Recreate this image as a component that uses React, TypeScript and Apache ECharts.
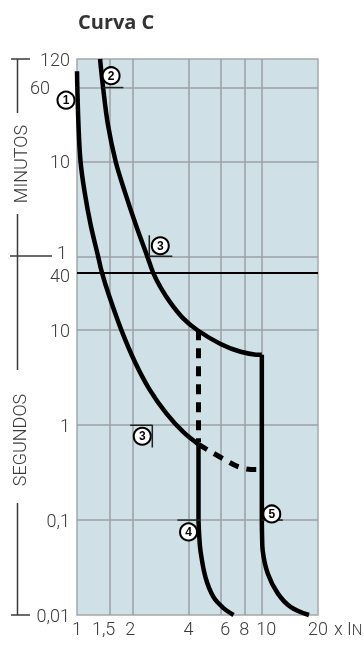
import React, { useEffect, useRef } from "react";
import * as echarts from "echarts";

const chartTitle = "Curva C";
const xTickValues = [1, 1.5, 2, 4, 6, 8, 10, 20];
const xTickLabels = ["1", "1,5", "2", "4", "6", "8", "10", "20"];
const xGridValues = [1.5, 2, 4, 6, 8, 10];
const yTickValues = [0.01, 0.1, 1, 10, 40, 60, 600, 3600, 7200];
const yTickLabels = ["0,01", "0,1", "1", "10", "40", "1", "10", "60", "120"];
const yGridValues = [0.1, 1, 10, 60, 600, 3600];
const limit40s = 40;

// curves: [x In, seconds]
const curve1 = [
  [1.0, 5350], [1.004, 3600], [1.019, 1428], [1.045, 600], [1.098, 290], [1.184, 130],
  [1.3, 60], [1.366, 40], [1.491, 23.1], [1.73, 10.2], [2.049, 4.68], [2.456, 2.4],
  [3.036, 1.33], [3.755, 0.842], [4.528, 0.628],
];
const curve1Dashed = [[4.528, 0.628], [4.82, 0.583], [6.11, 0.446], [7.65, 0.357], [9.45, 0.34], [9.95, 0.34]];
const dashedVertical = [[4.528, 10], [4.528, 0.66]];
const curve4 = [[4.528, 0.63], [4.528, 0.1], [4.57, 0.068], [4.64, 0.0476], [4.94, 0.0249], [5.46, 0.0154], [6.18, 0.0118], [7.0, 0.01]];
const curve2 = [
  [1.332, 7200], [1.383, 3600], [1.472, 1428], [1.617, 600], [1.809, 290], [2.075, 130],
  [2.396, 60], [2.582, 40], [2.836, 27.9], [3.192, 19.5], [3.708, 13.6], [4.472, 10],
  [5.957, 7.17], [7.647, 5.93], [9.57, 5.52], [9.95, 5.52],
];
const curve5 = [[9.95, 5.52], [9.95, 0.1], [9.98, 0.068], [10.06, 0.0476], [10.71, 0.0274], [12.13, 0.0169], [14.27, 0.0121], [17.87, 0.01]];

const markerLabels = ["1", "2", "3", "3", "4", "5"];
const markerX = [0.872, 1.528, 2.816, 2.25, 4.0, 11.26];
const markerY = [2652, 4800, 77.6, 0.764, 0.075, 0.116];
const bracketSegments = [
  [[0.76, 3600], [1.0, 3600]],
  [[1.38, 3600], [1.78, 3600]],
  [[2.456, 100], [2.456, 60], [3.27, 60]],
  [[1.937, 1], [2.55, 1], [2.55, 0.583]],
  [[3.483, 0.1], [4.642, 0.1]],
  [[9.95, 0.1], [12.92, 0.1]],
];

const FONT = "Roboto, 'Liberation Sans', Arial, sans-serif";
const TEXT = "#3a3a3a";

export default function App() {
  const ref = useRef<HTMLDivElement>(null);
  useEffect(() => {
    if (!ref.current) return;
    const chart = echarts.init(ref.current, undefined, { renderer: "svg" });
    const line = (data: number[][], smooth: number | false, width = 4.5, dash?: number[]) => ({
      type: "line",
      data,
      smooth,
      symbol: "none",
      clip: false,
      z: 10,
      silent: true,
      lineStyle: { color: "#000", width, type: dash || "solid" },
    });
    const series: any[] = [
      {
        type: "line",
        data: [],
        symbol: "none",
        z: 1,
        silent: true,
        markLine: {
          z: 1,
          silent: true,
          symbol: "none",
          animation: false,
          label: { show: false },
          lineStyle: { color: "#9ba1a5", width: 1.5, type: "solid" },
          data: [
            ...xGridValues.map((v) => ({ xAxis: v })),
            ...yGridValues.map((v) => ({ yAxis: v })),
            { yAxis: limit40s, lineStyle: { color: "#000", width: 2, type: "solid" } },
          ],
        },
      },
      line(curve1, 0.35),
      line(curve1Dashed, 0.35, 5, [10, 8]),
      line(dashedVertical, false, 5, [10, 8]),
      line(curve4.slice(0, 2), false),
      line(curve4.slice(1), 0.35),
      line(curve2, 0.35),
      line(curve5.slice(0, 2), false),
      line(curve5.slice(1), 0.35),
      ...bracketSegments.map((seg) => ({
        type: "line",
        data: seg,
        symbol: "none",
        clip: false,
        z: 11,
        silent: true,
        lineStyle: { color: "#222", width: 1.5 },
      })),
      {
        type: "scatter",
        clip: false,
        z: 12,
        silent: true,
        symbol: "circle",
        symbolSize: 17,
        itemStyle: { color: "#fff", borderColor: "#000", borderWidth: 2, opacity: 1 },
        label: {
          show: true,
          position: "inside",
          formatter: (p: any) => p.name,
          color: "#000",
          fontSize: 12,
          fontWeight: "bold",
          fontFamily: "'Liberation Sans', Arial, sans-serif",
        },
        data: markerLabels.map((n, i) => ({ name: n, value: [markerX[i], markerY[i]] })),
      },
    ];
    const lbl = { fontSize: 18, fontWeight: 300, fontFamily: FONT, color: TEXT };
    chart.setOption({
      animation: false,
      title: {
        text: chartTitle,
        left: 78,
        top: 11,
        padding: 0,
        textStyle: { fontSize: 20, fontWeight: "bold", color: "#333", fontFamily: "'Open Sans', 'Liberation Sans', sans-serif" },
      },
      grid: {
        left: 77,
        right: 46,
        top: 59,
        bottom: 31,
        containLabel: false,
        outerBoundsMode: "none",
        show: true,
        backgroundColor: "#cfe0e6",
        borderColor: "#a3a8ab",
        borderWidth: 1.5,
      },
      xAxis: {
        type: "log",
        logBase: 10,
        min: 1,
        max: 20,
        axisLine: { show: false },
        axisTick: { show: false },
        splitLine: { show: false },
        minorSplitLine: { show: false },
        name: "x I{n|N}",
        nameLocation: "end",
        nameGap: 12,
        nameTextStyle: {
          align: "left",
          verticalAlign: "top",
          padding: [4, 0, 0, 0],
          ...lbl,
          rich: { n: { ...lbl, fontSize: 15, padding: [3, 0, 0, 0] } },
        },
        axisLabel: {
          customValues: xTickValues,
          margin: 4,
          ...lbl,
          formatter: (v: number) => {
            const i = xTickValues.findIndex((t) => Math.abs(t - v) < 1e-6);
            if (i < 0) return "";
            const t = xTickValues[i];
            if (t === 1.5) return "{l|" + xTickLabels[i] + "}";
            if (t === 2) return "{ls|" + xTickLabels[i] + "}";
            if (t === 10 || t === 6) return "{r|" + xTickLabels[i] + "}";
            return xTickLabels[i];
          },
          rich: {
            l: { ...lbl, padding: [0, 12, 0, 0] },
            ls: { ...lbl, padding: [0, 5, 0, 0] },
            r: { ...lbl, padding: [0, 0, 0, 8] },
          },
        },
      },
      yAxis: {
        type: "log",
        logBase: 10,
        min: 0.01,
        max: 7200,
        axisLine: { show: false },
        axisTick: { show: false },
        splitLine: { show: false },
        minorSplitLine: { show: false },
        axisLabel: {
          customValues: yTickValues,
          margin: 7,
          ...lbl,
          formatter: (v: number) => {
            const i = yTickValues.findIndex((t) => Math.abs(t - v) / t < 1e-6);
            if (i < 0) return "";
            const t = yTickValues[i];
            if (t === 3600) return "{s|" + yTickLabels[i] + "}";
            if (t === 60) return "{m|" + yTickLabels[i] + "}";
            if (t === 40) return "{f|" + yTickLabels[i] + "}";
            return yTickLabels[i];
          },
          rich: {
            s: { ...lbl, padding: [0, 20, 0, 0] },
            m: { ...lbl, padding: [0, 3, 8, 0] },
            f: { ...lbl, padding: [4, 0, 0, 0] },
          },
        },
      },
      graphic: [
        { type: "line", shape: { x1: 11, y1: 59, x2: 30, y2: 59 }, style: { stroke: TEXT, lineWidth: 1.5 } },
        { type: "line", shape: { x1: 17.5, y1: 59, x2: 17.5, y2: 113 }, style: { stroke: TEXT, lineWidth: 1.5 } },
        {
          type: "text", x: 20, y: 164, rotation: Math.PI / 2,
          style: { text: "MINUTOS", align: "center", verticalAlign: "middle", fontSize: 18, fontWeight: 300, fontFamily: FONT, fill: TEXT },
        },
        { type: "line", shape: { x1: 17.5, y1: 214, x2: 17.5, y2: 370 }, style: { stroke: TEXT, lineWidth: 1.5 } },
        { type: "line", shape: { x1: 10, y1: 256, x2: 52, y2: 256 }, style: { stroke: TEXT, lineWidth: 1.5 } },
        {
          type: "text", x: 19, y: 440, rotation: Math.PI / 2,
          style: { text: "SEGUNDOS", align: "center", verticalAlign: "middle", fontSize: 18, fontWeight: 300, fontFamily: FONT, fill: TEXT },
        },
        { type: "line", shape: { x1: 17.5, y1: 503, x2: 17.5, y2: 615 }, style: { stroke: TEXT, lineWidth: 1.5 } },
        { type: "line", shape: { x1: 11, y1: 615, x2: 30, y2: 615 }, style: { stroke: TEXT, lineWidth: 1.5 } },
      ],
      series,
    });
    return () => chart.dispose();
  }, []);
  return <div ref={ref} style={{ position: "fixed", left: 0, top: 0, width: 364, height: 646 }} />;
}
